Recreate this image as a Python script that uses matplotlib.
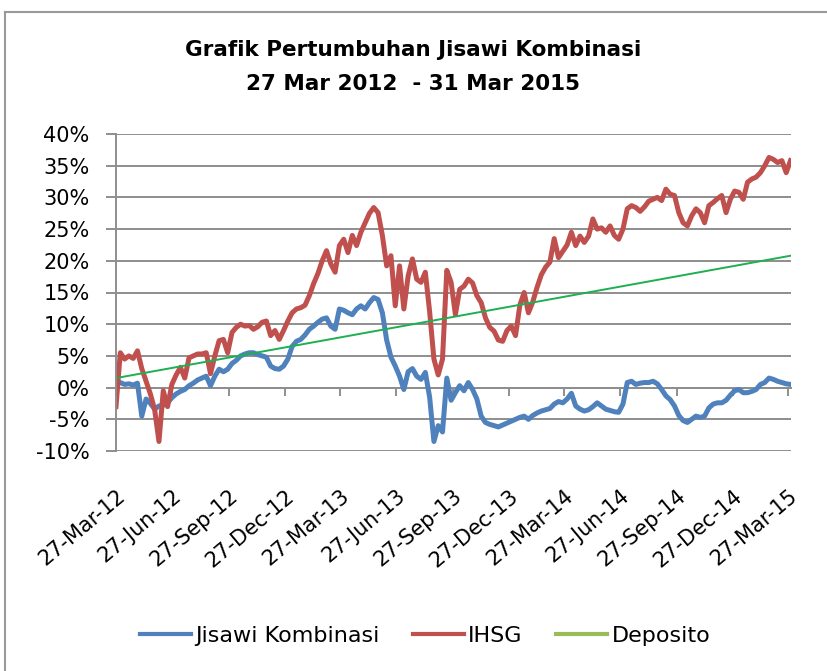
import matplotlib
matplotlib.use("Agg")
import matplotlib.pyplot as plt
from matplotlib.lines import Line2D
import pandas as pd

# mingguan, 27 Mar 2012 - 31 Mar 2015 (158 titik)
dates = pd.date_range("2012-03-27", periods=158, freq="7D")

# Jisawi Kombinasi (%)
jisawi = [
    0.5, 0.8, 0.5, 0.6, 0.4, 0.7, -4.5, -1.8, -2.5, -3.4,
    -2.9, -2.8, -2.4, -1.6, -1.0, -0.6, -0.3, 0.3, 0.7, 1.2,
    1.5, 1.8, 0.3, 1.8, 2.9, 2.5, 2.9, 3.8, 4.3, 5.0,
    5.3, 5.5, 5.5, 5.2, 5.0, 4.8, 3.4, 3.0, 2.9, 3.4,
    4.5, 6.5, 7.3, 7.6, 8.3, 9.2, 9.7, 10.3, 10.8, 11.0,
    9.7, 9.2, 12.4, 12.2, 11.8, 11.5, 12.4, 12.9, 12.4, 13.4,
    14.2, 13.9, 11.8, 7.5, 4.8, 3.4, 1.8, -0.3, 2.5, 3.0,
    1.8, 1.3, 2.4, -1.5, -8.5, -6.0, -7.0, 1.5, -2.0, -0.8,
    0.3, -0.5, 0.8, -0.3, -1.8, -4.5, -5.5, -5.8, -6.0, -6.2,
    -5.9, -5.6, -5.3, -5.0, -4.7, -4.5, -5.0, -4.4, -4.0, -3.7,
    -3.5, -3.3, -2.6, -2.2, -2.4, -1.8, -0.9, -2.9, -3.4, -3.7,
    -3.5, -3.0, -2.4, -2.9, -3.4, -3.6, -3.8, -3.9, -2.6, 0.8,
    1.0, 0.5, 0.7, 0.8, 0.8, 1.0, 0.6, -0.3, -1.3, -1.9,
    -2.9, -4.4, -5.2, -5.5, -5.0, -4.5, -4.7, -4.5, -3.2, -2.6,
    -2.4, -2.4, -2.0, -1.2, -0.5, -0.3, -0.8, -0.8, -0.6, -0.3,
    0.5, 0.8, 1.5, 1.3, 1.0, 0.8, 0.6, 0.5,
]

# IHSG (%)
ihsg = [
    -3.0, 5.5, 4.5, 5.0, 4.6, 5.8, 3.0, 1.0, -1.0, -3.5,
    -8.5, -0.5, -3.0, 0.5, 2.0, 3.2, 1.5, 4.7, 5.0, 5.3,
    5.3, 5.5, 2.2, 5.0, 7.4, 7.6, 5.5, 8.7, 9.5, 10.0,
    9.7, 9.8, 9.2, 9.6, 10.3, 10.5, 8.2, 9.0, 7.6, 9.0,
    10.5, 11.8, 12.4, 12.6, 13.0, 14.5, 16.4, 18.0, 20.0, 21.6,
    19.5, 18.2, 22.4, 23.4, 21.3, 24.0, 22.4, 24.5, 26.0, 27.5,
    28.4, 27.6, 24.0, 19.2, 20.8, 12.9, 19.2, 12.4, 17.6, 20.3,
    17.1, 16.6, 18.2, 12.0, 4.5, 2.0, 4.5, 18.5, 16.6, 11.5,
    15.5, 16.0, 17.1, 16.5, 14.5, 13.4, 11.0, 9.5, 8.9, 7.5,
    7.3, 9.0, 9.7, 8.2, 13.0, 15.0, 11.8, 13.5, 15.8, 17.8,
    19.0, 19.8, 23.5, 20.5, 21.5, 22.5, 24.5, 22.4, 23.9, 22.9,
    23.9, 26.6, 25.0, 25.2, 24.5, 25.5, 24.0, 23.4, 25.0, 28.2,
    28.7, 28.4, 27.8, 28.5, 29.4, 29.7, 30.0, 29.5, 31.3, 30.5,
    30.3, 27.6, 26.0, 25.5, 27.1, 28.2, 27.6, 26.0, 28.7, 29.2,
    29.8, 30.3, 27.6, 29.7, 31.0, 30.8, 29.7, 32.4, 32.9, 33.2,
    33.9, 35.0, 36.3, 36.0, 35.5, 35.8, 33.9, 35.8,
]

# Deposito (%), garis lurus
depo_dates = pd.to_datetime(["2012-03-27", "2015-03-31"])
deposito = [1.5, 20.8]

tick_dates = pd.to_datetime([
    "2012-03-27", "2012-06-27", "2012-09-27", "2012-12-27",
    "2013-03-27", "2013-06-27", "2013-09-27", "2013-12-27",
    "2014-03-27", "2014-06-27", "2014-09-27", "2014-12-27",
    "2015-03-27",
])
tick_labels = [d.strftime("%d-%b-%y") for d in tick_dates]
y_ticks = [-10, -5, 0, 5, 10, 15, 20, 25, 30, 35, 40]

plt.rcParams["font.family"] = ["DejaVu Sans"]

W, H = 827, 671
fig = plt.figure(figsize=(W / 100, H / 100), dpi=100)
ax = fig.add_axes([116 / W, 1 - 451 / H, 674.5 / W, 317 / H])

grid_c = "#8E8E8E"
ax.plot(dates, jisawi, color="#4F81BD", lw=3.6, solid_joinstyle="round")
ax.plot(dates, ihsg, color="#C0504D", lw=3.6, solid_joinstyle="round")
ax.plot(depo_dates, deposito, color="#1DAF50", lw=1.4)

ax.set_xlim(dates[0], dates[-1])
ax.set_ylim(-10, 40)
ax.set_yticks(y_ticks)
ax.set_yticklabels([f"{v}%" for v in y_ticks], fontsize=15)
ax.yaxis.grid(True, color=grid_c, lw=1.4)
ax.set_axisbelow(True)
for s in ["top", "right", "bottom"]:
    ax.spines[s].set_visible(False)
ax.spines["left"].set_color(grid_c)
ax.spines["left"].set_linewidth(1.4)
ax.tick_params(axis="y", length=7, width=1.4, color=grid_c, pad=12)

# label tanggal di bawah
ax.set_xticks(tick_dates)
ax.set_xticklabels(tick_labels, rotation=40, ha="right",
                   rotation_mode="anchor", fontsize=15)
ax.tick_params(axis="x", length=0, pad=25)

# sumbu x memotong di 0%
sec = ax.secondary_xaxis(0.2)
sec.set_xticks(tick_dates)
sec.tick_params(axis="x", length=6, width=1.4, color=grid_c, labelbottom=False)
sec.spines["bottom"].set_color(grid_c)
sec.spines["bottom"].set_linewidth(1.4)

fig.text(0.5, 1 - 50 / H, "Grafik Pertumbuhan Jisawi Kombinasi",
         ha="center", va="center", fontsize=15.5, fontweight="bold")
fig.text(0.5, 1 - 84 / H, "27 Mar 2012  - 31 Mar 2015",
         ha="center", va="center", fontsize=15.5, fontweight="bold")

handles = [
    Line2D([], [], color="#4F81BD", lw=3),
    Line2D([], [], color="#C0504D", lw=3),
    Line2D([], [], color="#9BBB59", lw=3),
]
fig.legend(handles, ["Jisawi Kombinasi", "IHSG", "Deposito"], ncol=3,
           loc="center", bbox_to_anchor=(425 / W, 1 - 636 / H),
           frameon=False, fontsize=16, handlelength=2.3,
           handletextpad=0.2, columnspacing=1.5)

# bingkai chart
fig.add_artist(Line2D([5 / W, 5 / W], [0, 1 - 12 / H], color="#9A9A9A",
                      lw=1.5, transform=fig.transFigure))
fig.add_artist(Line2D([5 / W, 1], [1 - 12 / H, 1 - 12 / H], color="#9A9A9A",
                      lw=1.5, transform=fig.transFigure))

fig.savefig("out.png", dpi=100, facecolor="white")
